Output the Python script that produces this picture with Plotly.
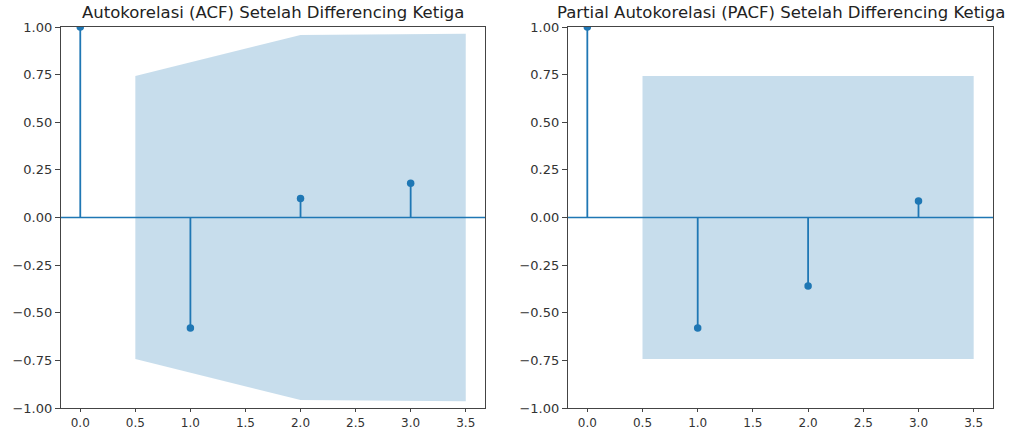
import plotly.graph_objects as go
from plotly.subplots import make_subplots

lags = [0, 1, 2, 3]
acf_vals = [1.0, -0.58, 0.10, 0.18]
pacf_vals = [1.0, -0.58, -0.36, 0.087]
acf_conf = [0.743, 0.958, 0.964]   # confidence half-width at lags 1..3
pacf_conf = [0.743, 0.743, 0.743]
titles = ["Autokorelasi (ACF) Setelah Differencing Ketiga",
          "Partial Autokorelasi (PACF) Setelah Differencing Ketiga"]
xticks = [0, 0.5, 1, 1.5, 2, 2.5, 3, 3.5]
yticks = [-1, -0.75, -0.5, -0.25, 0, 0.25, 0.5, 0.75, 1]

C0 = "#1f77b4"
BAND = "rgba(31,119,180,0.25)"

fig = make_subplots(rows=1, cols=2)

def add_panel(col, vals, conf):
    bx = list(lags[1:])
    bx[0] -= 0.5
    bx[-1] += 0.5
    fig.add_trace(go.Scatter(x=bx, y=[-c for c in conf], mode="lines",
                             line=dict(width=0, color=BAND), showlegend=False,
                             hoverinfo="skip"), row=1, col=col)
    fig.add_trace(go.Scatter(x=bx, y=conf, mode="lines", fill="tonexty",
                             fillcolor=BAND, line=dict(width=0, color=BAND),
                             showlegend=False, hoverinfo="skip"), row=1, col=col)
    sx, sy = [], []
    for l, v in zip(lags, vals):
        sx += [l, l, None]
        sy += [0, v, None]
    fig.add_trace(go.Scatter(x=sx, y=sy, mode="lines",
                             line=dict(color=C0, width=1.8), showlegend=False),
                  row=1, col=col)
    fig.add_trace(go.Scatter(x=lags, y=vals, mode="markers",
                             marker=dict(color=C0, size=7.5), showlegend=False),
                  row=1, col=col)

add_panel(1, acf_vals, acf_conf)
add_panel(2, pacf_vals, pacf_conf)

doms = [[61/1010, 485/1010], [568/1010, 993/1010]]
ydom = [1 - 408/428, 1 - 27/428]
axis_common = dict(showline=True, linecolor="#444", linewidth=1.2, mirror=True,
                   ticks="outside", tickcolor="#444", tickwidth=1.2,
                   showgrid=False, zeroline=False, automargin=False)
for i in range(2):
    xa = "xaxis" if i == 0 else "xaxis2"
    ya = "yaxis" if i == 0 else "yaxis2"
    fig.layout[xa].update(domain=doms[i], range=[-0.175, 3.675],
                          tickvals=xticks, ticktext=[f"{t:.1f}" for t in xticks],
                          ticklen=3,
                          tickfont=dict(family="DejaVu Sans", size=12, color="#333"),
                          **axis_common)
    fig.layout[ya].update(domain=ydom, range=[-1, 1], tickvals=yticks,
                          ticktext=[f"{t:.2f}".replace("-", "\u2212") for t in yticks],
                          ticklen=5,
                          tickfont=dict(family="DejaVu Sans", size=13, color="#333"),
                          **axis_common)
    xr = "x domain" if i == 0 else "x2 domain"
    yr = "y" if i == 0 else "y2"
    fig.add_shape(type="line", xref=xr, yref=yr, x0=0, x1=1, y0=0, y1=0,
                  line=dict(color=C0, width=1.6))
    fig.add_annotation(text=titles[i], xref="paper", yref="paper",
                       x=(doms[i][0] + doms[i][1]) / 2, y=ydom[1],
                       yanchor="bottom", xanchor="center", yshift=3,
                       showarrow=False,
                       font=dict(family="DejaVu Sans", size=16.5, color="#222"))

fig.update_layout(width=1010, height=428, margin=dict(l=0, r=0, t=0, b=0),
                  plot_bgcolor="white", paper_bgcolor="white")
fig.write_html("out.html")
